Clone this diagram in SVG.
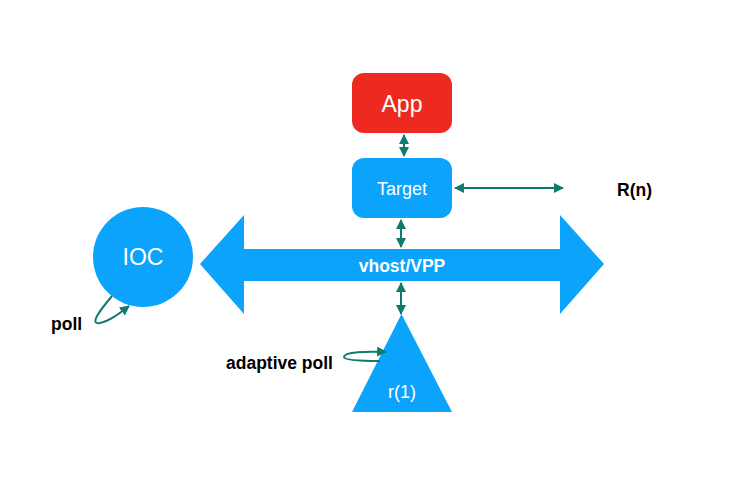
<svg xmlns="http://www.w3.org/2000/svg" width="730" height="479" viewBox="0 0 730 479">
<defs>
<marker id="ah" viewBox="0 0 10 10" refX="9" refY="5" markerWidth="10" markerHeight="10" markerUnits="userSpaceOnUse" orient="auto-start-reverse">
<path d="M0,0 L10,5 L0,10 z" fill="#107A6E"/>
</marker>
<style>
.blue{fill:#0BA3FC}
.conn{stroke:#107A6E;stroke-width:2;fill:none}
.wt{fill:#fff;font-family:"Liberation Sans",Arial,sans-serif;text-anchor:middle}
.bt{fill:#000;font-family:"Liberation Sans",Arial,sans-serif;font-weight:bold;font-size:17.5px}
</style>
</defs>
<rect width="730" height="479" fill="#fff"/>
<g id="app"><rect x="352" y="73" width="100" height="60" rx="12" fill="#EE2A20"/><text class="wt" x="402" y="112" font-size="23">App</text></g>
<g id="target"><rect class="blue" x="352" y="158" width="100" height="60" rx="12"/><text class="wt" x="402" y="195" font-size="18">Target</text></g>
<g id="bus"><path class="blue" d="M200,264 L244,215 L244,249 L560,249 L560,215 L604,264 L560,314 L560,281 L244,281 L244,314 Z"/><text class="wt" x="402" y="272" font-size="17.5" font-weight="bold">vhost/VPP</text></g>
<g id="ioc"><circle class="blue" cx="143" cy="257" r="50"/><text class="wt" x="143" y="265" font-size="23">IOC</text></g>
<g id="r1"><path class="blue" d="M401.5,314 L452,412 L352,412 Z"/><text class="wt" x="402" y="398" font-size="18">r(1)</text></g>
<g id="rn"><text class="bt" x="617" y="196">R(n)</text></g>
<g id="labels"><text class="bt" x="51" y="330">poll</text><text class="bt" x="226" y="369">adaptive poll</text></g>
<g id="connectors">
<line class="conn" x1="404" y1="135" x2="404" y2="156" marker-start="url(#ah)" marker-end="url(#ah)"/>
<line class="conn" x1="455" y1="188" x2="563" y2="188" marker-start="url(#ah)" marker-end="url(#ah)"/>
<line class="conn" x1="401" y1="220" x2="401" y2="247" marker-start="url(#ah)" marker-end="url(#ah)"/>
<line class="conn" x1="401" y1="283" x2="401" y2="314" marker-start="url(#ah)" marker-end="url(#ah)"/>
<path class="conn" d="M112,296 C102,308 88,325 100,323 C110,321 120,313 129,306" marker-end="url(#ah)"/>
<path class="conn" d="M380,361 C360,361 344,360 344,357 C344,352 366,351 386,352" marker-end="url(#ah)"/>
</g>
</svg>
